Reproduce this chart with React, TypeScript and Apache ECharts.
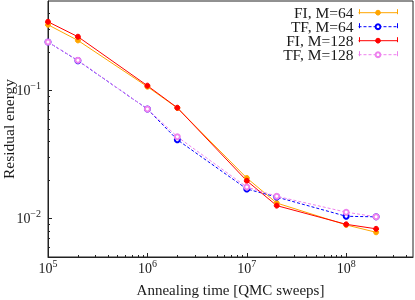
import React, { useEffect, useRef } from "react";
import * as echarts from "echarts";

const times = [1e5, 2e5, 1e6, 2e6, 1e7, 2e7, 1e8, 2e8];
const fi64 = [0.326, 0.246, 0.107, 0.073, 0.0207, 0.0132, 0.0089, 0.0078];
const tf64 = [0.239, 0.171, 0.0716, 0.0412, 0.017, 0.0147, 0.0104, 0.0103];
const fi128 = [0.344, 0.263, 0.109, 0.0733, 0.0197, 0.0126, 0.009, 0.0083];
const tf128 = [0.239, 0.172, 0.0716, 0.0435, 0.0176, 0.0149, 0.0112, 0.0103];

const seriesNames = ["FI, M=64", "TF, M=64", "FI, M=128", "TF, M=128"];
const seriesValues = [fi64, tf64, fi128, tf128];
const seriesColors = ["#ffa500", "#0000ff", "#ff0000", "#ee82ee"];
const seriesDashed = [false, true, false, true];

const xMajor = [1e5, 1e6, 1e7, 1e8];
const xMinor = [2e5, 3e5, 4e5, 5e5, 6e5, 7e5, 8e5, 9e5, 2e6, 3e6, 4e6, 5e6, 6e6, 7e6, 8e6, 9e6, 2e7, 3e7, 4e7, 5e7, 6e7, 7e7, 8e7, 9e7, 2e8, 3e8, 4e8];
const yMajor = [0.01, 0.1];
const yMinor = [0.006, 0.007, 0.008, 0.009, 0.02, 0.03, 0.04, 0.05, 0.06, 0.07, 0.08, 0.09, 0.2, 0.3, 0.4];

const X_MIN = 1e5, X_MAX = 4.7e8, Y_MIN = 0.005, Y_MAX = 0.5;
const FONT = "Liberation Serif";
const TXT = "#1a1a1a";

const powLabel = (v: number) => {
  const e = Math.round(Math.log10(v));
  return `{b|10}{s|${e < 0 ? "\u2212" + -e : e}}`;
};
const rich = {
  b: { fontFamily: FONT, fontSize: 14, lineHeight: 14, color: TXT },
  s: { fontFamily: FONT, fontSize: 10, lineHeight: 10, padding: [0, 0, 10, 0], color: TXT },
};

export default function App() {
  const ref = useRef<HTMLDivElement>(null);
  useEffect(() => {
    const chart = echarts.init(ref.current!, null, { renderer: "svg" });
    const gridRect = { left: 48, right: 2, top: 1, bottom: 43 };
    const legendRight = 17, firstRowCenter = 11.7, itemW = 39, rowH = 14, textH = 14;
    const caps: any[] = [];
    const legends: any[] = [];
    seriesNames.forEach((name, i) => {
      const cy = firstRowCenter + i * rowH;
      legends.push({
        orient: "horizontal",
        align: "right",
        right: legendRight,
        top: cy - textH / 2,
        padding: 0,
        itemWidth: itemW,
        itemHeight: 6,
        data: [name],
        lineStyle: { width: 1 },
        itemStyle: { borderWidth: 1 },
        textStyle: { fontFamily: FONT, fontSize: 15.5, lineHeight: textH, color: TXT },
      });
      [415 - legendRight - itemW + 0.5, 415 - legendRight - 0.5].forEach((cx) => {
        caps.push({
          type: "line",
          shape: { x1: cx, y1: cy - 2.5, x2: cx, y2: cy + 2.5 },
          style: { stroke: seriesColors[i], lineWidth: 1 },
          z: 10,
        });
      });
    });
    chart.setOption({
      animation: false,
      grid: [
        { ...gridRect, show: true, borderColor: "#222", borderWidth: 1, outerBoundsMode: "none" },
        { ...gridRect, show: false, outerBoundsMode: "none" },
      ],
      legend: legends,
      graphic: caps,
      xAxis: [
        {
          type: "log", gridIndex: 0, min: X_MIN, max: X_MAX,
          name: "Annealing time [QMC sweeps]", nameLocation: "middle", nameGap: 25,
          nameMoveOverlap: false,
          nameTextStyle: { fontFamily: FONT, fontSize: 15, color: TXT, verticalAlign: "top" },
          axisLine: { lineStyle: { color: "#222", width: 1 } },
          axisTick: { inside: true, length: 4, customValues: xMajor, lineStyle: { color: "#222" } },
          axisLabel: { customValues: xMajor, margin: 4, formatter: powLabel, rich },
          splitLine: { show: false },
        },
        {
          type: "log", gridIndex: 1, min: X_MIN, max: X_MAX,
          axisLine: { show: false },
          axisTick: { inside: true, length: 2, customValues: xMinor, lineStyle: { color: "#222" } },
          axisLabel: { show: false },
          splitLine: { show: false },
        },
      ],
      yAxis: [
        {
          type: "log", gridIndex: 0, min: Y_MIN, max: Y_MAX,
          name: "Residual energy", nameLocation: "middle", nameGap: 32,
          nameMoveOverlap: false,
          nameTextStyle: { fontFamily: FONT, fontSize: 15.5, color: TXT },
          axisLine: { lineStyle: { color: "#222", width: 1 } },
          axisTick: { inside: true, length: 4, customValues: yMajor, lineStyle: { color: "#222" } },
          axisLabel: { customValues: yMajor, margin: 7, formatter: powLabel, rich },
          splitLine: { show: false },
        },
        {
          type: "log", gridIndex: 1, min: Y_MIN, max: Y_MAX,
          axisLine: { show: false },
          axisTick: { inside: true, length: 2, customValues: yMinor, lineStyle: { color: "#222" } },
          axisLabel: { show: false },
          splitLine: { show: false },
        },
      ],
      series: seriesNames.map((name, i) => ({
        name,
        type: "line",
        xAxisIndex: 0,
        yAxisIndex: 0,
        data: times.map((t, j) => [t, seriesValues[i][j]]),
        symbol: seriesDashed[i] ? "emptyCircle" : "circle",
        symbolSize: 5,
        clip: false,
        lineStyle: { color: seriesColors[i], width: 1, type: seriesDashed[i] ? [3, 2] : "solid" },
        itemStyle: { color: seriesColors[i], borderColor: seriesColors[i], borderWidth: 1 },
      })),
    });
    return () => chart.dispose();
  }, []);
  return <div ref={ref} style={{ position: "fixed", left: 0, top: 0, width: 415, height: 300 }} />;
}
